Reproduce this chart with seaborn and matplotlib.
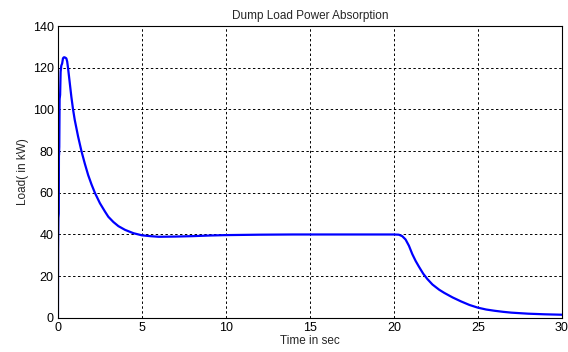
import matplotlib
matplotlib.use("Agg")
import matplotlib.pyplot as plt
import seaborn as sns
import pandas as pd

# Dump load power absorption over the simulation run
time_s = [0.0, 0.01, 0.03, 0.05, 0.06, 0.06, 0.08, 0.1, 0.13, 0.16, 0.2, 0.25,
          0.3, 0.35, 0.4, 0.5, 0.55, 0.6, 0.7, 0.8, 0.9, 1.0, 1.2, 1.4, 1.6,
          1.8, 2.0, 2.2, 2.5, 2.8, 3.0, 3.3, 3.6, 4.0, 4.5, 5.0, 5.5, 6.0,
          7.0, 8.0, 9.0, 10.0, 12.0, 14.0, 16.0, 18.0, 20.0, 20.3, 20.5,
          20.7, 20.9, 21.1, 21.3, 21.5, 21.75, 22.0, 22.3, 22.7, 23.0, 23.5,
          24.0, 24.5, 25.0, 25.5, 26.0, 26.5, 27.0, 28.0, 29.0, 30.0]
load_kw = [0.0, 33.0, 48.0, 50.0, 80.0, 78.0, 82.0, 105.0, 107.0, 118.0, 121.0,
           122.0, 124.5, 125.0, 125.0, 124.5, 123.0, 120.0, 113.0, 106.0, 100.0,
           95.0, 87.0, 80.0, 74.0, 68.5, 64.0, 60.0, 55.0, 51.0, 48.5, 46.0,
           44.0, 42.2, 40.6, 39.6, 39.2, 38.9, 39.0, 39.2, 39.5, 39.7, 39.9,
           40.0, 40.0, 40.0, 40.0, 39.9, 39.2, 37.6, 34.6, 30.6, 27.3, 24.5,
           21.2, 18.6, 16.0, 13.5, 12.0, 9.8, 7.9, 6.2, 4.9, 4.0, 3.4, 2.9,
           2.5, 2.0, 1.7, 1.5]

x_ticks = [0, 5, 10, 15, 20, 25, 30]
y_ticks = [0, 20, 40, 60, 80, 100, 120, 140]

df = pd.DataFrame({"Time": time_s, "Load": load_kw})

sns.set_style("white")
plt.rcParams["font.family"] = ["Liberation Sans", "DejaVu Sans"]

fig = plt.figure(figsize=(5.68, 3.52), dpi=100)
ax = fig.add_axes([0.102, 0.097, 0.887, 0.829])

sns.lineplot(data=df, x="Time", y="Load", ax=ax, color="#0000ff",
             linewidth=1.6, sort=False, estimator=None)

ax.set_xlim(0, 30)
ax.set_ylim(0, 140)
ax.set_xticks(x_ticks)
ax.set_yticks(y_ticks)
ax.tick_params(axis="both", labelsize=9, direction="in", length=3,
               colors="black", pad=3)
ax.grid(True, color="black", linestyle=(0, (2.5, 2.5)), linewidth=0.7)
for side in ax.spines.values():
    side.set_color("black")
    side.set_linewidth(0.8)

ax.set_title("Dump Load Power Absorption", fontsize=8.5, pad=5)
ax.set_xlabel("Time in sec", fontsize=8.5, labelpad=1)
ax.set_ylabel("Load( in kW)", fontsize=8.5, labelpad=3)

fig.savefig("out.png", dpi=100)
